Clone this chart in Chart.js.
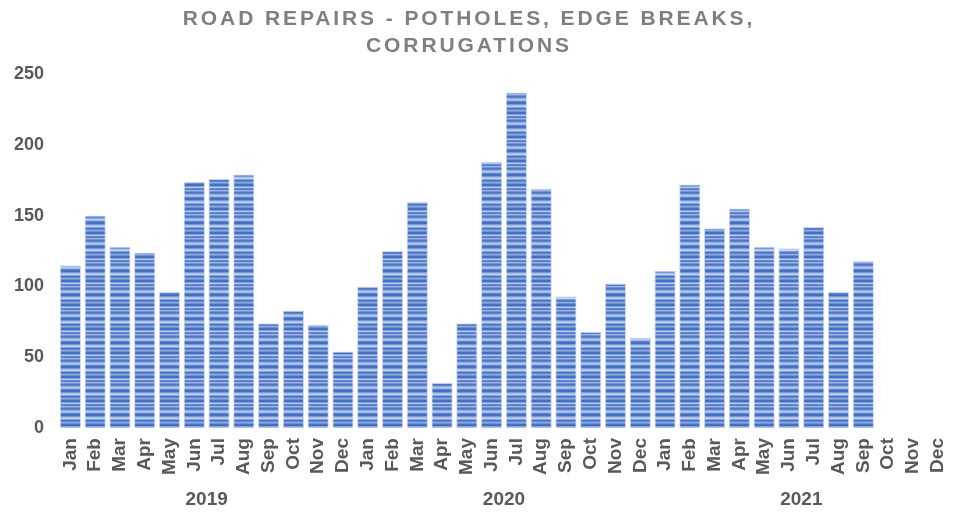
<!DOCTYPE html>
<html>
<head>
<meta charset="utf-8">
<script src="https://cdn.jsdelivr.net/npm/chart.js@4"></script>
<style>
  html, body { margin: 0; padding: 0; background: #fff; }
  #wrap { width: 955px; height: 515px; }
</style>
</head>
<body>
<div id="wrap"><canvas id="c" width="955" height="515"></canvas></div>
<script>
const titleLines = ['ROAD REPAIRS - POTHOLES, EDGE BREAKS,', 'CORRUGATIONS'];
const months = ['Jan','Feb','Mar','Apr','May','Jun','Jul','Aug','Sep','Oct','Nov','Dec'];
const years = ['2019', '2020', '2021'];
const values2019 = [115, 150, 128, 124, 96, 174, 176, 179, 74, 83, 73, 54];
const values2020 = [100, 125, 160, 32, 74, 188, 237, 169, 93, 68, 102, 64];
const values2021 = [111, 172, 141, 155, 128, 127, 142, 96, 118, null, null, null];
const yTicks = [0, 50, 100, 150, 200, 250];

const labels = [].concat(months, months, months);
const data = [].concat(values2019, values2020, values2021);

// striped fill pattern
function makePattern() {
  const rows = ['#4a76c8','#5d84cf','#8eaae0','#b8cbec','#9fb7e5','#5b83cf','#4371c4','#476fc0',
                '#7797d8','#a9bfe8','#c5d4ef','#7f9edb','#4f7aca','#5a80cc','#94afe2','#6c8fd4',
                '#4472c4','#3f6bc0','#86a4dd','#b0c4ea','#6a8dd4','#5179c9','#a0b8e6','#7393d6'];
  const pc = document.createElement('canvas');
  pc.width = 4; pc.height = rows.length;
  const pctx = pc.getContext('2d');
  rows.forEach((c, i) => { pctx.fillStyle = c; pctx.fillRect(0, i, 4, 1); });
  return document.getElementById('c').getContext('2d').createPattern(pc, 'repeat');
}

const customTitle = {
  id: 'customTitle',
  afterDraw(chart) {
    const ctx = chart.ctx;
    ctx.save();
    ctx.fillStyle = '#7f7f7f';
    ctx.font = 'bold 21px "Liberation Sans", Arial, sans-serif';
    try { ctx.letterSpacing = '2.9px'; } catch (e) {}
    ctx.textAlign = 'center';
    ctx.textBaseline = 'alphabetic';
    const cx = 469;
    ctx.fillText(titleLines[0], cx, 25);
    ctx.fillText(titleLines[1], cx, 52);
    ctx.restore();
  }
};

const yearLabels = {
  id: 'yearLabels',
  afterDraw(chart) {
    const ctx = chart.ctx;
    const x = chart.scales.x;
    ctx.save();
    ctx.fillStyle = '#595959';
    ctx.font = 'bold 19px "Liberation Sans", Arial, sans-serif';
    ctx.textAlign = 'center';
    ctx.textBaseline = 'middle';
    years.forEach((yr, i) => {
      const a = x.getPixelForValue(i * 12 + 5);
      const b = x.getPixelForValue(i * 12 + 6);
      ctx.fillText(yr, (a + b) / 2, 500);
    });
    ctx.restore();
  }
};

new Chart(document.getElementById('c'), {
  type: 'bar',
  data: {
    labels: labels,
    datasets: [{
      data: data,
      backgroundColor: makePattern(),
      borderColor: 'rgba(205,216,240,0.95)',
      borderWidth: 1,
      categoryPercentage: 1.0,
      barPercentage: 0.86
    }]
  },
  options: {
    responsive: false,
    animation: false,
    devicePixelRatio: 1,
    layout: { padding: { top: 74, right: 5, bottom: 30, left: 0 } },
    plugins: {
      legend: { display: false },
      title: { display: false },
      tooltip: { enabled: false }
    },
    scales: {
      x: {
        afterFit(scale) { scale.paddingLeft = 0; scale.paddingRight = 0; },
        grid: { display: false, drawTicks: false },
        border: { display: false },
        ticks: {
          color: '#595959',
          font: { family: '"Liberation Sans", Arial, sans-serif', size: 19, weight: 'bold' },
          minRotation: 90, maxRotation: 90,
          autoSkip: false,
          padding: 10
        }
      },
      y: {
        min: 0, max: 250,
        afterBuildTicks(scale) { scale.ticks = yTicks.map(v => ({ value: v })); },
        afterFit(scale) { scale.width = 58; },
        grid: { display: false, drawTicks: false },
        border: { display: false },
        ticks: {
          color: '#595959',
          font: { family: '"Liberation Sans", Arial, sans-serif', size: 18, weight: 'bold' },
          padding: 14
        }
      }
    }
  },
  plugins: [customTitle, yearLabels]
});
</script>
</body>
</html>
